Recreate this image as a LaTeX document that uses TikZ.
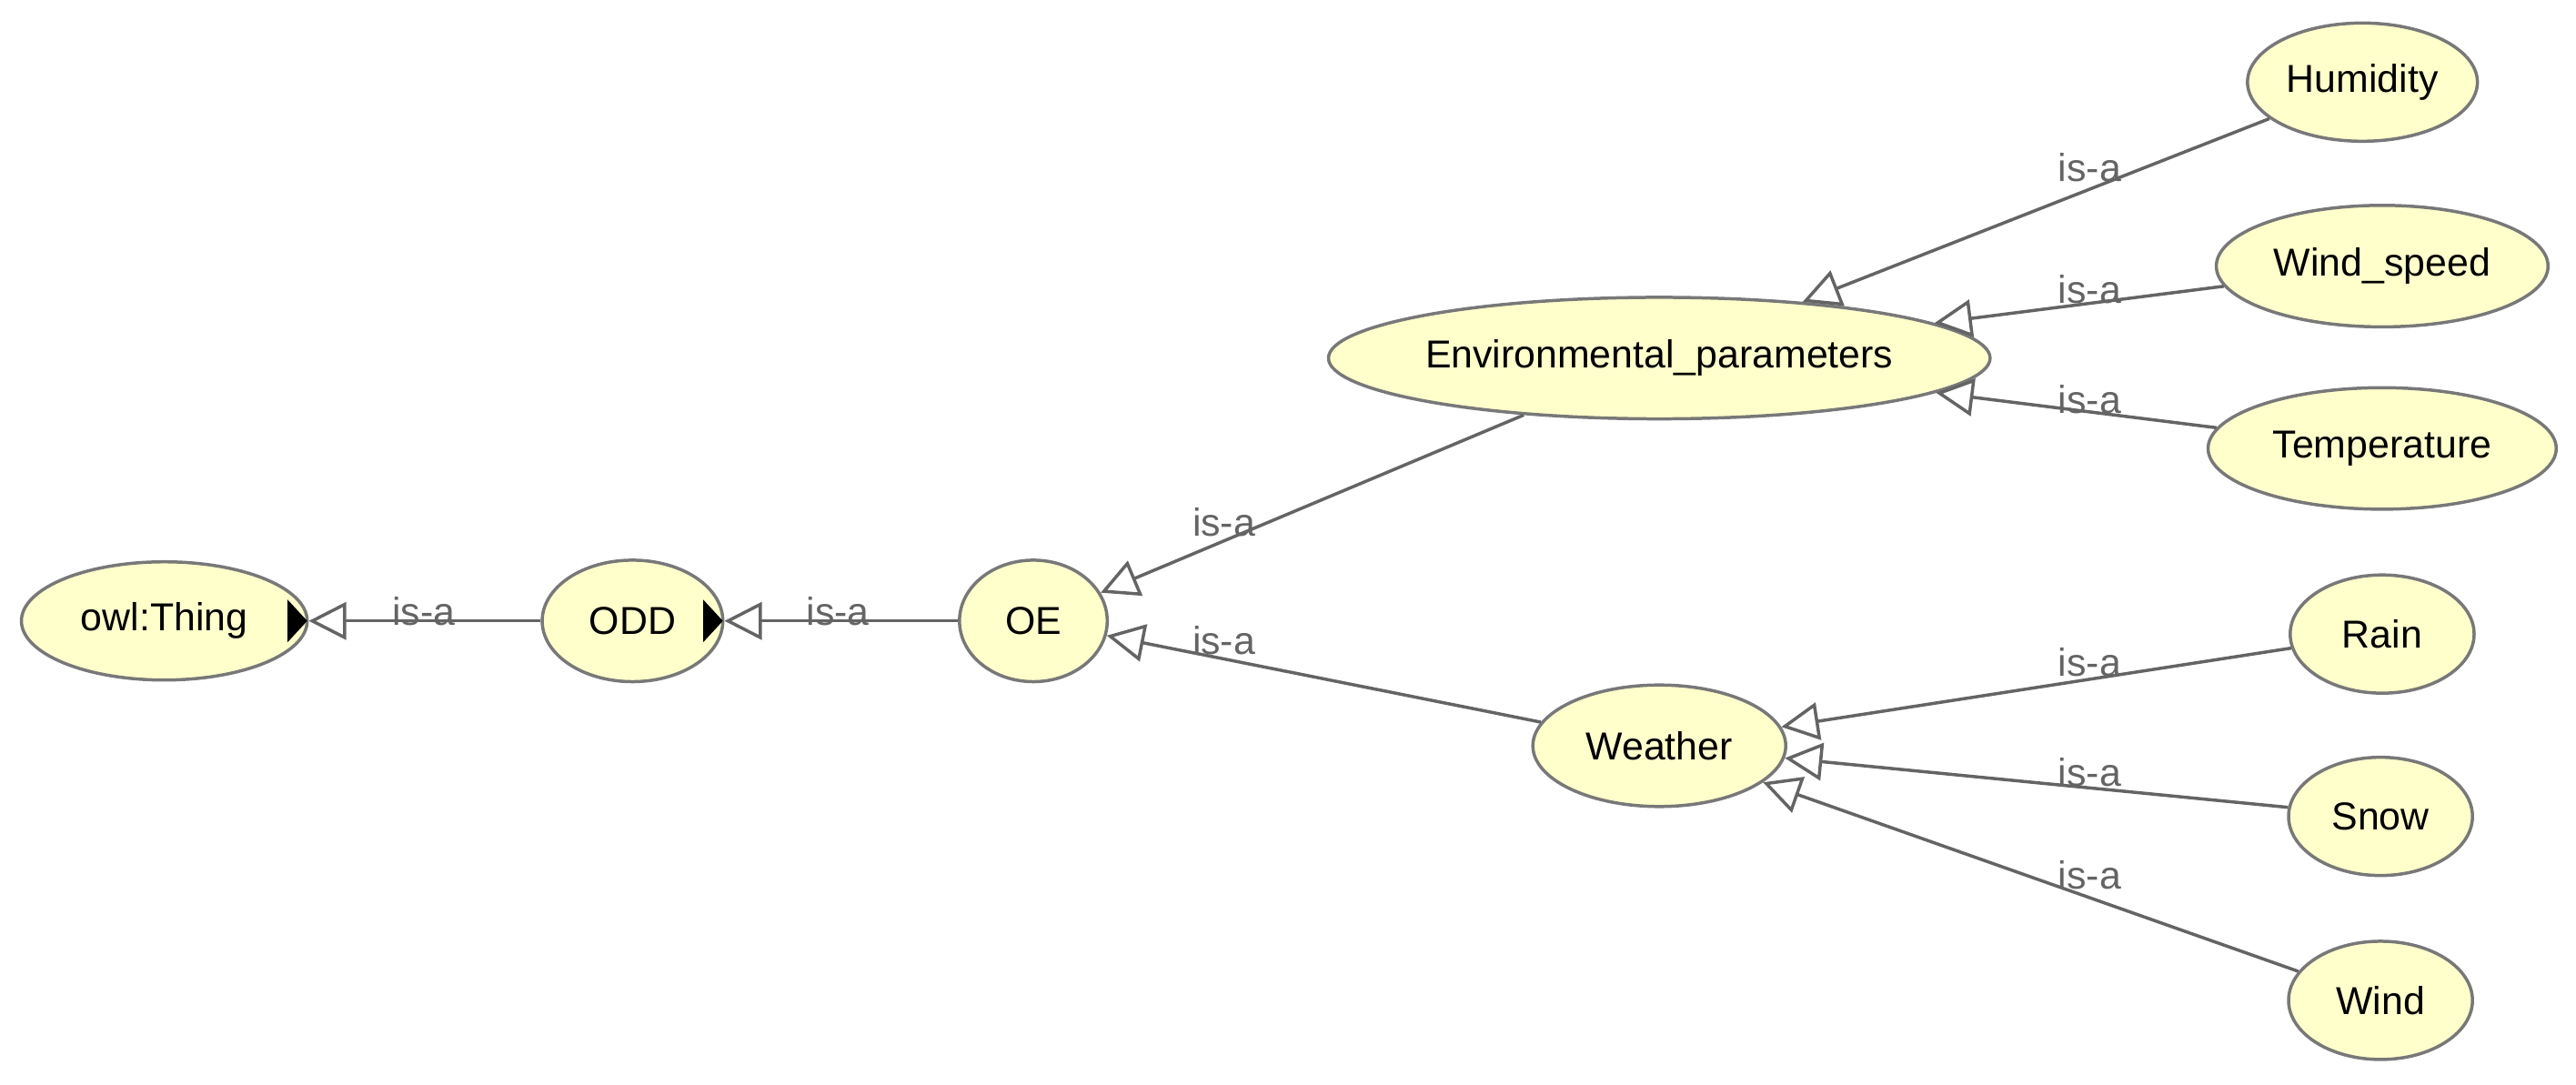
\documentclass[tikz,border=0pt]{standalone}
\usepackage{fontspec}
\setmainfont{Liberation Sans}
\usetikzlibrary{shapes.geometric,arrows.meta}
\definecolor{nfill}{RGB}{255,255,204}
\definecolor{nline}{RGB}{120,120,120}
\definecolor{eline}{RGB}{100,100,100}
\tikzset{
  cls/.style={ellipse,draw=nline,fill=nfill,line width=1.1pt,inner sep=0pt,font=\fontsize{13.5}{16}\selectfont},
  isa/.style={draw=eline,line width=1.1pt,-{Triangle[open,length=13pt,width=13pt]}},
  lbl/.style={text=eline,font=\fontsize{13.5}{16}\selectfont,inner sep=0pt},
  hidemark/.style={fill=black}
}
\begin{document}
\begin{tikzpicture}[x=0.02cm,y=-0.02cm]
\useasboundingbox (0,0) rectangle (1568,660);
\newcommand{\cl}[5]{\node[cls,minimum width=#3*0.04cm,minimum height=#4*0.04cm] (#1) at #2 {#5};}
\cl{thing}{(100,378)}{87}{36}{owl:Thing}
\cl{odd}{(385,378)}{55}{37}{ODD}
\cl{oe}{(629,378)}{45}{37}{OE}
\cl{env}{(1010,218)}{192}{37}{Environmental\_parameters}
\cl{weather}{(1010,454)}{77}{37}{Weather}
\cl{hum}{(1438,50)}{70}{36}{Humidity}
\cl{ws}{(1450,162)}{101}{37}{Wind\_speed}
\cl{temp}{(1450,273)}{106}{37}{Temperature}
\cl{rain}{(1450,386)}{56}{36}{Rain}
\cl{snow}{(1449,497)}{56}{36}{Snow}
\cl{wind}{(1449,609)}{56}{36}{Wind}
\fill[hidemark] (175,365) -- (187,378) -- (175,391) -- cycle;
\fill[hidemark] (428,365) -- (440,378) -- (428,391) -- cycle;
\draw[isa] (odd) -- (thing.east);
\draw[isa] (oe) -- (odd.east);
\draw[isa] (env) -- (oe);
\draw[isa] (weather) -- (oe);
\draw[isa] (hum) -- (env);
\draw[isa] (ws) -- (env);
\draw[isa] (temp) -- (env);
\draw[isa] (rain) -- (weather);
\draw[isa] (snow) -- (weather);
\draw[isa] (wind) -- (weather);
\node[lbl] (l1) at (258,372) {is-a};
\node[lbl] (l2) at (510,372) {is-a};
\node[lbl] (l3) at (745,318) {is-a};
\node[lbl] (l4) at (745,390) {is-a};
\node[lbl] (l5) at (1272,102) {is-a};
\node[lbl] (l6) at (1272,176) {is-a};
\node[lbl] (l7) at (1272,243) {is-a};
\node[lbl] (l8) at (1272,403) {is-a};
\node[lbl] (l9) at (1272,470) {is-a};
\node[lbl] (l10) at (1272,533) {is-a};
\end{tikzpicture}
\end{document}
